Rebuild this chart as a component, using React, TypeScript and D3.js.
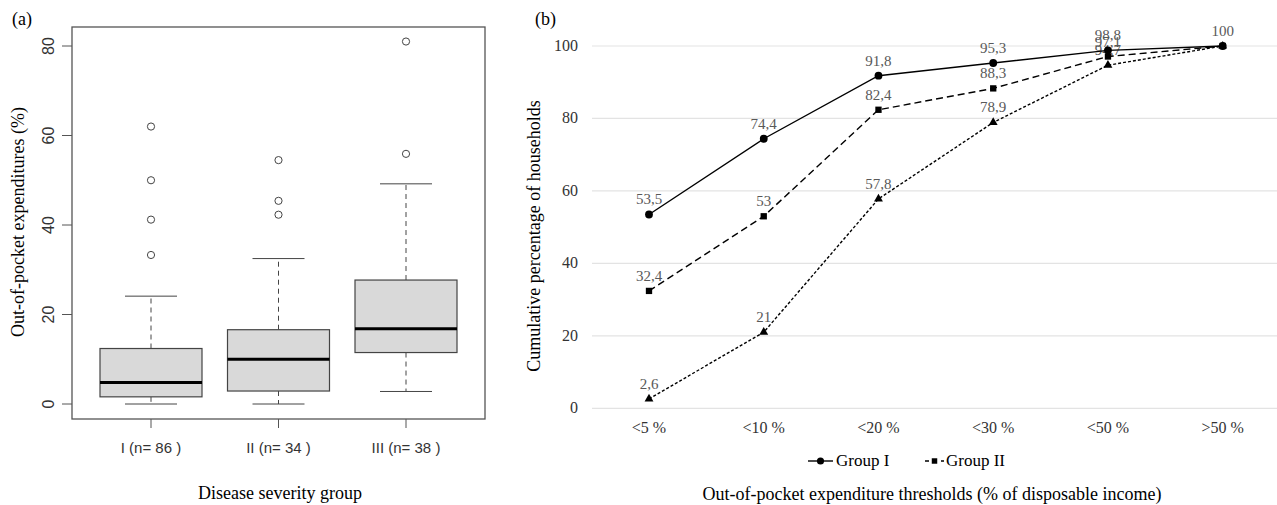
import React, { useEffect, useRef } from 'react';
import * as d3 from 'd3';

// panel (a): box plot
const groups = ['I (n= 86 )', 'II (n= 34 )', 'III (n= 38 )'];
const boxLow = [0, 0, 2.8];
const boxQ1 = [1.6, 2.9, 11.5];
const boxMed = [4.8, 10.0, 16.8];
const boxQ3 = [12.4, 16.6, 27.7];
const boxHigh = [24.1, 32.5, 49.2];
const outliers = [[62, 50, 41.2, 33.3], [54.5, 45.4, 42.3], [81, 55.9]];
const aTicks = [0, 20, 40, 60, 80];

// panel (b): cumulative lines
const thresholds = ['<5 %', '<10 %', '<20 %', '<30 %', '<50 %', '>50 %'];
const groupI = [53.5, 74.4, 91.8, 95.3, 98.8, 100];
const groupII = [32.4, 53, 82.4, 88.3, 97.1, 100];
const groupIII = [2.6, 21, 57.8, 78.9, 94.7, 100];
const bTicks = [0, 20, 40, 60, 80, 100];

const serif = '"Liberation Serif", "Times New Roman", serif';
const sans = '"Liberation Sans", Arial, sans-serif';

export default function App() {
  const ref = useRef<SVGSVGElement>(null);

  useEffect(() => {
    document.body.style.margin = '0';
    const svg = d3.select(ref.current);
    svg.selectAll('*').remove();

    // ---------- panel (a) ----------
    const a = svg.append('g');
    const ax = d3.scalePoint().domain(groups).range([151, 406]);
    const ay = d3.scaleLinear().domain([0, 80]).range([404, 46]);
    const boxW = 102;

    a.append('rect')
      .attr('x', 72).attr('y', 27).attr('width', 413).attr('height', 392)
      .attr('fill', 'none').attr('stroke', '#555').attr('stroke-width', 1.3);

    a.selectAll('.ytick').data(aTicks).enter().append('line')
      .attr('x1', 62).attr('x2', 72)
      .attr('y1', d => ay(d)).attr('y2', d => ay(d))
      .attr('stroke', '#555');
    a.selectAll('.ylab').data(aTicks).enter().append('text')
      .attr('transform', d => `translate(54,${ay(d)}) rotate(-90)`)
      .attr('text-anchor', 'middle')
      .attr('font-family', sans).attr('font-size', 16).attr('fill', '#333')
      .text(d => d);

    a.selectAll('.xtick').data(groups).enter().append('line')
      .attr('x1', d => ax(d)!).attr('x2', d => ax(d)!)
      .attr('y1', 419).attr('y2', 428)
      .attr('stroke', '#555');
    a.selectAll('.xlab').data(groups).enter().append('text')
      .attr('x', d => ax(d)!).attr('y', 453)
      .attr('text-anchor', 'middle')
      .attr('font-family', sans).attr('font-size', 15).attr('fill', '#333')
      .text(d => d);

    groups.forEach((g, i) => {
      const cx = ax(g)!;
      const gg = a.append('g');
      // whiskers
      gg.append('line').attr('x1', cx).attr('x2', cx)
        .attr('y1', ay(boxQ3[i])).attr('y2', ay(boxHigh[i]))
        .attr('stroke', '#444').attr('stroke-dasharray', '5,4');
      gg.append('line').attr('x1', cx).attr('x2', cx)
        .attr('y1', ay(boxQ1[i])).attr('y2', ay(boxLow[i]))
        .attr('stroke', '#444').attr('stroke-dasharray', '5,4');
      [boxHigh[i], boxLow[i]].forEach(v => {
        gg.append('line').attr('x1', cx - 26).attr('x2', cx + 26)
          .attr('y1', ay(v)).attr('y2', ay(v)).attr('stroke', '#444');
      });
      gg.append('rect')
        .attr('x', cx - boxW / 2).attr('width', boxW)
        .attr('y', ay(boxQ3[i])).attr('height', ay(boxQ1[i]) - ay(boxQ3[i]))
        .attr('fill', '#d9d9d9').attr('stroke', '#444').attr('stroke-width', 1.2);
      gg.append('line').attr('x1', cx - boxW / 2).attr('x2', cx + boxW / 2)
        .attr('y1', ay(boxMed[i])).attr('y2', ay(boxMed[i]))
        .attr('stroke', '#000').attr('stroke-width', 3);
      gg.selectAll('circle').data(outliers[i]).enter().append('circle')
        .attr('cx', cx).attr('cy', d => ay(d)).attr('r', 3.6)
        .attr('fill', 'none').attr('stroke', '#444').attr('stroke-width', 1);
    });

    a.append('text').attr('x', 12).attr('y', 25)
      .attr('font-family', serif).attr('font-size', 18).text('(a)');
    a.append('text')
      .attr('transform', `translate(24,222) rotate(-90)`)
      .attr('text-anchor', 'middle')
      .attr('font-family', serif).attr('font-size', 18)
      .text('Out-of-pocket expenditures (%)');
    a.append('text').attr('x', 280).attr('y', 499)
      .attr('text-anchor', 'middle')
      .attr('font-family', serif).attr('font-size', 18)
      .text('Disease severity group');

    // ---------- panel (b) ----------
    const b = svg.append('g');
    const bx = d3.scalePoint().domain(thresholds).range([649, 1222.7]);
    const by = d3.scaleLinear().domain([0, 100]).range([408.3, 46]);

    b.selectAll('.grid').data(bTicks).enter().append('line')
      .attr('x1', 592).attr('x2', 1277)
      .attr('y1', d => by(d)).attr('y2', d => by(d))
      .attr('stroke', '#e3e3e3').attr('stroke-width', 1.2);
    b.selectAll('.ylab').data(bTicks).enter().append('text')
      .attr('x', 578).attr('y', d => by(d) + 5)
      .attr('text-anchor', 'end')
      .attr('font-family', serif).attr('font-size', 16).attr('fill', '#333')
      .text(d => d);
    b.selectAll('.xlab').data(thresholds).enter().append('text')
      .attr('x', d => bx(d)!).attr('y', 433)
      .attr('text-anchor', 'middle')
      .attr('font-family', serif).attr('font-size', 16).attr('fill', '#333')
      .text(d => d);

    const series = [
      { values: groupIII, dash: '3,2', shape: d3.symbolTriangle, size: 34, dy: 0 },
      { values: groupII, dash: '7,4', shape: d3.symbolSquare, size: 40, dy: 0 },
      { values: groupI, dash: null, shape: d3.symbolCircle, size: 48, dy: 0 },
    ];
    const line = d3.line<number>()
      .x((_, i) => bx(thresholds[i])!)
      .y(d => by(d));

    series.forEach(s => {
      b.append('path').datum(s.values)
        .attr('d', line)
        .attr('fill', 'none').attr('stroke', '#000').attr('stroke-width', 1.4)
        .attr('stroke-dasharray', s.dash);
      b.selectAll(null).data(s.values).enter().append('path')
        .attr('d', d3.symbol().type(s.shape).size(s.size)())
        .attr('transform', (d, i) => `translate(${bx(thresholds[i])},${by(d)})`)
        .attr('fill', '#000');
      b.selectAll(null).data(s.values).enter().append('text')
        .attr('x', (_, i) => bx(thresholds[i])!)
        .attr('y', d => by(d) - 10)
        .attr('text-anchor', 'middle')
        .attr('font-family', serif).attr('font-size', 15).attr('fill', '#595959')
        .text((d, i) => (i === 5 && s.values !== groupI) ? '' : String(d).replace('.', ','));
    });

    // legend
    const ly = 461;
    b.append('line').attr('x1', 808).attr('x2', 833).attr('y1', ly).attr('y2', ly)
      .attr('stroke', '#000').attr('stroke-width', 1.4);
    b.append('path').attr('d', d3.symbol().type(d3.symbolCircle).size(40)())
      .attr('transform', `translate(820.5,${ly})`);
    b.append('text').attr('x', 836).attr('y', ly + 5)
      .attr('font-family', serif).attr('font-size', 17).text('Group I');
    b.append('line').attr('x1', 925).attr('x2', 944).attr('y1', ly).attr('y2', ly)
      .attr('stroke', '#000').attr('stroke-width', 1.4).attr('stroke-dasharray', '4,4');
    b.append('path').attr('d', d3.symbol().type(d3.symbolSquare).size(30)())
      .attr('transform', `translate(934.5,${ly})`);
    b.append('text').attr('x', 946).attr('y', ly + 5)
      .attr('font-family', serif).attr('font-size', 17).text('Group II');

    b.append('text').attr('x', 535).attr('y', 25)
      .attr('font-family', serif).attr('font-size', 18).text('(b)');
    b.append('text')
      .attr('transform', `translate(540,236) rotate(-90)`)
      .attr('text-anchor', 'middle')
      .attr('font-family', serif).attr('font-size', 18)
      .text('Cumulative percentage of households');
    b.append('text').attr('x', 932).attr('y', 500)
      .attr('text-anchor', 'middle')
      .attr('font-family', serif).attr('font-size', 18)
      .text('Out-of-pocket expenditure thresholds (% of disposable income)');
  }, []);

  return <svg ref={ref} width={1277} height={505} style={{ display: 'block', background: '#fff' }} />;
}
